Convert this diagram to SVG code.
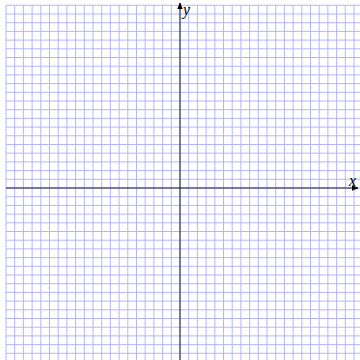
<svg xmlns="http://www.w3.org/2000/svg" width="360" height="360" viewBox="0 0 360 360">
<defs>
<style>
.g{stroke:#b4b4ff;stroke-width:1;fill:none}
.ax{stroke:#1a1a3a;stroke-width:1;fill:none}
.lb{font-family:"Liberation Serif",serif;font-style:italic;font-size:16px;fill:#000}
</style>
<marker id="ah" viewBox="0 0 10 10" refX="9" refY="5" markerWidth="7" markerHeight="7" orient="auto" markerUnits="userSpaceOnUse"><path d="M0,1 L10,5 L0,9 z" fill="#000"/></marker>
</defs>
<rect width="360" height="360" fill="#fff"/>
<g id="grid" class="g">
<path d="M6,5.3V360M14.7,5.3V360M23.4,5.3V360M32.1,5.3V360M40.8,5.3V360M49.5,5.3V360M58.2,5.3V360M66.9,5.3V360M75.6,5.3V360M84.3,5.3V360M93,5.3V360M101.7,5.3V360M110.4,5.3V360M119.1,5.3V360M127.8,5.3V360M136.5,5.3V360M145.2,5.3V360M153.9,5.3V360M162.6,5.3V360M171.3,5.3V360M180,5.3V360M188.7,5.3V360M197.4,5.3V360M206.1,5.3V360M214.8,5.3V360M223.5,5.3V360M232.2,5.3V360M240.9,5.3V360M249.6,5.3V360M258.3,5.3V360M267,5.3V360M275.7,5.3V360M284.4,5.3V360M293.1,5.3V360M301.8,5.3V360M310.5,5.3V360M319.2,5.3V360M327.9,5.3V360M336.6,5.3V360M345.3,5.3V360M354,5.3V360"/>
<path d="M6,5.3H360M6,14H360M6,22.7H360M6,31.4H360M6,40.1H360M6,48.8H360M6,57.5H360M6,66.2H360M6,74.9H360M6,83.6H360M6,92.3H360M6,101H360M6,109.7H360M6,118.4H360M6,127.1H360M6,135.8H360M6,144.5H360M6,153.2H360M6,161.9H360M6,170.6H360M6,179.3H360M6,188H360M6,196.7H360M6,205.4H360M6,214.1H360M6,222.8H360M6,231.5H360M6,240.2H360M6,248.9H360M6,257.6H360M6,266.3H360M6,275H360M6,283.7H360M6,292.4H360M6,301.1H360M6,309.8H360M6,318.5H360M6,327.2H360M6,335.9H360M6,344.6H360M6,353.3H360"/>
</g>
<g id="axes">
<line class="ax" x1="6" y1="188" x2="358" y2="188" marker-end="url(#ah)"/>
<line class="ax" x1="180" y1="360" x2="180" y2="3" marker-end="url(#ah)"/>
</g>
<g id="labels">
<text id="xlabel" class="lb" x="349" y="186">x</text>
<text id="ylabel" class="lb" x="183" y="15">y</text>
</g>
</svg>
